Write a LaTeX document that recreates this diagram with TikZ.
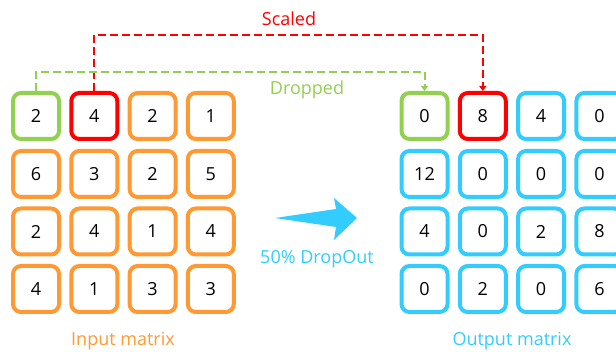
\documentclass[tikz,border=0pt]{standalone}
\usepackage{fontspec}
\setmainfont{Open Sans}
\usetikzlibrary{arrows.meta}

\definecolor{inorange}{HTML}{FF9933}
\definecolor{outblue}{HTML}{33CCFF}
\definecolor{dropgreen}{HTML}{92D050}
\definecolor{scalered}{HTML}{FF0000}

\tikzset{
  cell/.style={draw, line width=4pt, rounded corners=8pt, minimum size=46pt, inner sep=0pt, font=\fontsize{18}{20}\selectfont},
  incell/.style={cell, draw=inorange},
  outcell/.style={cell, draw=outblue},
  dropcell/.style={cell, draw=dropgreen},
  scalecell/.style={cell, draw=scalered},
  link/.style={line width=2pt, dash pattern=on 8pt off 4pt, -{Triangle[length=5pt,width=7pt]}},
  caption/.style={font=\fontsize{18}{20}\selectfont}
}

\begin{document}
\begin{tikzpicture}[x=1pt,y=1pt]
\useasboundingbox (0,0) rectangle (616,-352);

% input matrix
\node[dropcell] (in11) at (36,-116) {2};
\node[scalecell] (in12) at (94.3,-116) {4};
\node[incell] (in13) at (152.6,-116) {2};
\node[incell] (in14) at (210.8,-116) {1};
\node[incell] (in21) at (36,-174) {6};
\node[incell] (in22) at (94.3,-174) {3};
\node[incell] (in23) at (152.6,-174) {2};
\node[incell] (in24) at (210.8,-174) {5};
\node[incell] (in31) at (36,-231.5) {2};
\node[incell] (in32) at (94.3,-231.5) {4};
\node[incell] (in33) at (152.6,-231.5) {1};
\node[incell] (in34) at (210.8,-231.5) {4};
\node[incell] (in41) at (36,-289) {4};
\node[incell] (in42) at (94.3,-289) {1};
\node[incell] (in43) at (152.6,-289) {3};
\node[incell] (in44) at (210.8,-289) {3};

% output matrix
\node[dropcell] (out11) at (424.5,-116) {0};
\node[scalecell] (out12) at (482.8,-116) {8};
\node[outcell] (out13) at (541.1,-116) {4};
\node[outcell] (out14) at (599.4,-116) {0};
\node[outcell] (out21) at (424.5,-174) {12};
\node[outcell] (out22) at (482.8,-174) {0};
\node[outcell] (out23) at (541.1,-174) {0};
\node[outcell] (out24) at (599.4,-174) {0};
\node[outcell] (out31) at (424.5,-231.5) {4};
\node[outcell] (out32) at (482.8,-231.5) {0};
\node[outcell] (out33) at (541.1,-231.5) {2};
\node[outcell] (out34) at (599.4,-231.5) {8};
\node[outcell] (out41) at (424.5,-289) {0};
\node[outcell] (out42) at (482.8,-289) {2};
\node[outcell] (out43) at (541.1,-289) {0};
\node[outcell] (out44) at (599.4,-289) {6};

% labels
\node[caption, text=scalered] (scaled) at (289,-19) {Scaled};
\node[caption, text=dropgreen] (dropped) at (307,-90) {Dropped};
\node[caption, text=outblue] (rate) at (317,-259) {50\% DropOut};
\node[caption, text=inorange] (inlabel) at (123,-341) {Input matrix};
\node[caption, text=outblue] (outlabel) at (512,-341) {Output matrix};

% dashed links
\coordinate (scaleturn) at (482.8,-35);
\coordinate (dropturn) at (424.5,-72);
\draw[link, draw=scalered] (in12.north) |- (scaleturn) -- (out12.north);
\draw[link, draw=dropgreen] (in11.north) |- (dropturn) -- (out11.north);

% dropout arrow
\fill[outblue] (275,-218) -- (336,-209) -- (334,-198) -- (357,-218) -- (334,-240) -- (336,-227) -- cycle;
\end{tikzpicture}
\end{document}
